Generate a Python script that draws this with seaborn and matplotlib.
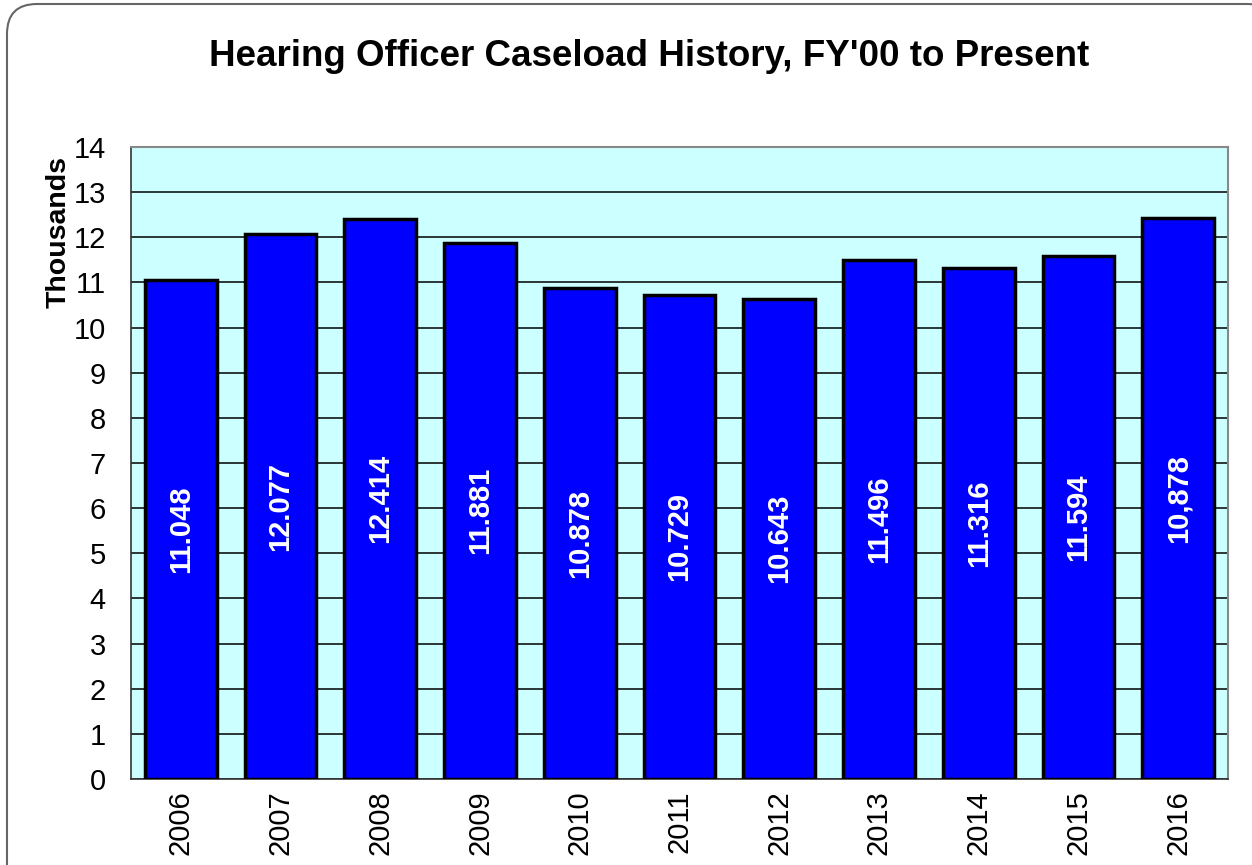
import matplotlib
matplotlib.use("Agg")
import matplotlib.pyplot as plt
from matplotlib.patches import FancyBboxPatch
import seaborn as sns
import pandas as pd

years = ["2006", "2007", "2008", "2009", "2010", "2011", "2012", "2013", "2014", "2015", "2016"]
caseload = [11.048, 12.077, 12.414, 11.881, 10.878, 10.729, 10.643, 11.496, 11.316, 11.594, 12.42]
bar_labels = ["11.048", "12.077", "12.414", "11.881", "10.878", "10.729", "10.643",
              "11.496", "11.316", "11.594", "10,878"]

df = pd.DataFrame({"year": years, "cases": caseload})

sns.set_style("white")
plt.rcParams["font.family"] = ["Liberation Sans", "DejaVu Sans"]
plt.rcParams["text.color"] = "black"
plt.rcParams["axes.labelcolor"] = "black"
plt.rcParams["xtick.color"] = "black"
plt.rcParams["ytick.color"] = "black"

fig = plt.figure(figsize=(12.52, 8.65), dpi=100)

# rounded slide frame in pixel coordinates
bg = fig.add_axes([0, 0, 1, 1], zorder=-1)
bg.set_xlim(0, 1252)
bg.set_ylim(865, 0)
bg.axis("off")
bg.add_patch(FancyBboxPatch((7, 4), 1270, 900, boxstyle="round,pad=0,rounding_size=30",
                            facecolor="white", edgecolor="#666666", lw=1.5, clip_on=False))

ax = fig.add_axes([131 / 1252, 1 - 779 / 865, (1228 - 131) / 1252, (779 - 147) / 865])
ax.set_facecolor("#CCFFFF")
sns.barplot(data=df, x="year", y="cases", color="#0000FF", edgecolor="black",
            linewidth=2.5, width=0.72, saturation=1, ax=ax, zorder=3)

for i, (v, lab) in enumerate(zip(caseload, bar_labels)):
    ax.text(i, v / 2, lab, rotation=90, ha="center", va="center", color="white",
            fontsize=21, fontweight="bold", zorder=4)

ax.set_ylim(0, 14)
ax.set_xlim(-0.5, len(years) - 0.5)
ax.set_yticks(range(0, 15))
ax.yaxis.grid(True, color="black", lw=1.1, zorder=1)
ax.set_axisbelow(True)
ax.set_xticks([i - 0.5 for i in range(len(years) + 1)], minor=False)
ax.set_xticklabels([""] * (len(years) + 1))
ax.set_xticks(range(len(years)), minor=True)
ax.set_xticklabels(years, minor=True, rotation=90, fontsize=21)
ax.tick_params(axis="x", which="minor", length=0, pad=8)
ax.tick_params(axis="x", which="major", length=7, width=1, color="#333333", direction="out")
ax.tick_params(axis="y", length=7, width=1, color="#333333", direction="out", labelsize=21, pad=11)
ax.set_xlabel("")
ax.set_ylabel("Thousands", fontsize=20.5, fontweight="bold")
ax.yaxis.set_label_coords(-59 / 1097, (779 - 232) / 632)

for s in ["left", "bottom"]:
    ax.spines[s].set_color("#333333")
    ax.spines[s].set_linewidth(1.2)
for s in ["top", "right"]:
    ax.spines[s].set_color("#888888")
    ax.spines[s].set_linewidth(1.5)

fig.text(649 / 1252, 1 - 57 / 865, "Hearing Officer Caseload History, FY'00 to Present",
         ha="center", va="center", fontsize=26.5, fontweight="bold")

fig.savefig("out.png", dpi=100)
